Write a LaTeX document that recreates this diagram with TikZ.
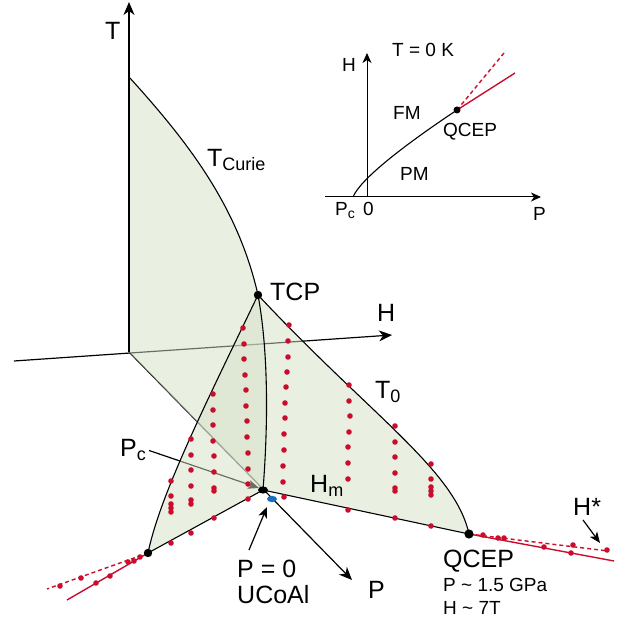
\documentclass[tikz,border=0pt]{standalone}
\usepackage{fontspec}
\setmainfont{Liberation Sans}
\usetikzlibrary{arrows.meta,calc}
\definecolor{ucoRed}{HTML}{CC0C2C}
\definecolor{ucoBlue}{HTML}{1A6EC0}
\definecolor{ucoGreen}{HTML}{D3E1C6}
\newcommand{\lsub}[1]{\raisebox{-4pt}{\fontsize{18}{18}\selectfont #1}}
\newcommand{\isub}[1]{\raisebox{-3pt}{\fontsize{14}{14}\selectfont #1}}
\tikzset{
  lab/.style={font=\fontsize{25}{28}\selectfont, inner sep=0pt, anchor=base west},
  smalllab/.style={font=\fontsize{19}{22}\selectfont, inner sep=0pt, anchor=base west},
  axisline/.style={line width=1.2pt, -{Stealth[length=13pt,width=11pt,inset=4pt]}},
  insaxis/.style={line width=1pt, -{Stealth[length=10pt,width=9pt,inset=3pt]}},
  pointer/.style={line width=1.2pt, -{Stealth[length=11pt,width=9pt,inset=3pt]}},
  wingedge/.style={line width=1.1pt},
  wing/.style={fill=ucoGreen, fill opacity=0.5},
  redline/.style={ucoRed, line width=1.4pt},
  reddash/.style={ucoRed, line width=1.4pt, dash pattern=on 4pt off 3pt},
}

\begin{document}
\begin{tikzpicture}[x=1pt, y=-1pt]
\useasboundingbox (0,0) rectangle (630,620);

% --- KEY POINTS (pixel grid, y grows downwards) ---
\coordinate (O)     at (129,352);
\coordinate (Ttip)  at (129,2);
\coordinate (Tc)    at (129,77);
\coordinate (Hleft) at (14,361);
\coordinate (Htip)  at (392,335);
\coordinate (Ptip)  at (352,580);
\coordinate (TCP)   at (258,295);
\coordinate (CP)    at (263,490);
\coordinate (UCoAl) at (272,499);
\coordinate (WL)    at (148,553);
\coordinate (QCEP)  at (469,534);
\coordinate (RsolR) at (614,561);
\coordinate (RdotR) at (608,551);
\coordinate (RsolL) at (67,600);
\coordinate (RdotL) at (47,589);
\coordinate (PcTip) at (259,488);
\coordinate (uFrom) at (249,550);
\coordinate (uTip)  at (267,507);
\coordinate (hsFrom) at (583,520);
\coordinate (hsTip)  at (600,543);

% --- DATA: measured points on the wings ---
\def\dotsLeftWing{171/481, 171/496, 171/504, 171/508, 171/512, 171/543,
  191/439, 191/455, 191/470, 191/486, 191/500, 191/504, 191/533,
  213/394, 213/410, 213/425, 213/441, 214/456, 214/472, 214/488, 214/491, 214/518,
  243/328, 244/344, 244/359, 245/375, 246/390, 246/406, 247/421, 247/437,
  248/453, 248/469, 248/484, 248/499}
\def\dotsRightWing{289/325, 288/341, 288/357, 287/372, 286/387, 285/403,
  285/418, 284/434, 284/450, 283/466, 283/482, 284/497,
  349/385, 349/401, 350/416, 349/432, 348/447, 348/463, 348/479, 348/510,
  395/426, 395/442, 395/457, 395/473, 395/488, 395/491, 395/518,
  431/464, 431/479, 431/487, 431/491, 431/495, 431/526}
\def\dotsOutside{483/535, 498/538, 504/538, 573/545, 607/550, 544/547, 571/553,
  60/586, 81/578, 128/562, 134/561, 140/557, 96/583, 110/576}

% --- AXES (drawn first, they show grey through the wings) ---
\draw[axisline] (Hleft) -- (Htip);
\draw[axisline] (O) -- (Ptip);
\node[lab] (labPc) at (120,457) {P\lsub{c}};
\draw[pointer] ([xshift=3pt]labPc.east) -- (PcTip);

% --- WINGS ---
\fill[wing] (O) -- (Tc) .. controls (189,143) and (238,207) .. (TCP)
  .. controls (270,360) and (267,440) .. (CP) -- cycle;
\fill[wing] (TCP) .. controls (205,405) and (160,495) .. (WL) -- (CP)
  .. controls (267,440) and (270,360) .. (TCP) -- cycle;
\fill[wing] (TCP) .. controls (370,415) and (455,470) .. (QCEP) -- (CP)
  .. controls (267,440) and (270,360) .. (TCP) -- cycle;

% --- OUTLINES ---
\draw[axisline] (O) -- (Ttip);
\draw[wingedge] (Tc) .. controls (189,143) and (238,207) .. (TCP);
\draw[wingedge] (TCP) .. controls (270,360) and (267,440) .. (CP);
\draw[wingedge] (TCP) .. controls (205,405) and (160,495) .. (WL);
\draw[wingedge] (TCP) .. controls (370,415) and (455,470) .. (QCEP);
\draw[wingedge] (WL) -- (CP) -- (QCEP);

% --- RED LINES + POINTS ---
\draw[redline] (QCEP) -- (RsolR);
\draw[reddash] (QCEP) -- (RdotR);
\draw[redline] (WL) -- (RsolL);
\draw[reddash] (WL) -- (RdotL);
\foreach \xv/\yv in \dotsLeftWing {
  \fill[ucoRed] (\xv,\yv) circle[radius=2.8pt];
}
\foreach \xv/\yv in \dotsRightWing {
  \fill[ucoRed] (\xv,\yv) circle[radius=2.8pt];
}
\foreach \xv/\yv in \dotsOutside {
  \fill[ucoRed] (\xv,\yv) circle[radius=2.8pt];
}

% --- SPECIAL POINTS ---
\fill (TCP) circle[radius=4.2pt];
\fill (CP) ellipse[x radius=5pt, y radius=3.6pt];
\fill (WL) circle[radius=4.2pt];
\fill (QCEP) circle[radius=4.6pt];
\fill[ucoBlue] (UCoAl) ellipse[x radius=5pt, y radius=3.2pt];

% --- LABELS ---
\node[lab] (labT) at (105,40) {T};
\node[lab] (labTcurie) at (207,167) {T\lsub{Curie}};
\node[lab] (labTCP) at (270,301) {TCP};
\node[lab] (labH) at (377,322) {H};
\node[lab] (labT0) at (375,399) {T\lsub{0}};
\node[lab] (labHm) at (310,493) {H\lsub{m}};
\node[lab] (labQCEP) at (443,567) {QCEP};
\node[smalllab] (labPval) at (443,591) {P \textasciitilde{} 1.5 GPa};
\node[smalllab] (labHval) at (443,614) {H \textasciitilde{} 7T};
\node[lab] (labP) at (368,598) {P};
\node[lab] (labP0) at (237,577) {P = 0};
\node[lab] (labUCoAl) at (237,603) {UCoAl};
\node[lab] (labHstar) at (573,515) {H*};
\draw[pointer] (uFrom) -- (uTip);
\draw[pointer] (hsFrom) -- (hsTip);

% --- INSET: T = 0 K ---
\coordinate (iO)     at (367,197);
\coordinate (iHtip)  at (367,53);
\coordinate (iPleft) at (325,197);
\coordinate (iPtip)  at (541,197);
\coordinate (iPc)    at (353,197);
\coordinate (iQ)     at (457,110);
\coordinate (iSol)   at (515,73);
\coordinate (iDash)  at (504,53);
\draw[insaxis] (iPleft) -- (iPtip);
\draw[insaxis] (iO) -- (iHtip);
\draw[wingedge] (iPc) .. controls (360,180) and (400,148) .. (iQ);
\draw[redline] (iQ) -- (iSol);
\draw[reddash] (iQ) -- (iDash);
\fill (iQ) circle[radius=3.5pt];
\node[smalllab] (insH) at (342,72) {H};
\node[smalllab] (insT0K) at (392,57) {T = 0 K};
\node[smalllab] (insFM) at (393,120) {FM};
\node[smalllab] (insQCEP) at (443,137) {QCEP};
\node[smalllab] (insPM) at (400,181) {PM};
\node[smalllab] (insPc) at (335,216) {P\isub{c}};
\node[smalllab] (insZero) at (363,216) {0};
\node[smalllab] (insP) at (533,221) {P};

\end{tikzpicture}
\end{document}
